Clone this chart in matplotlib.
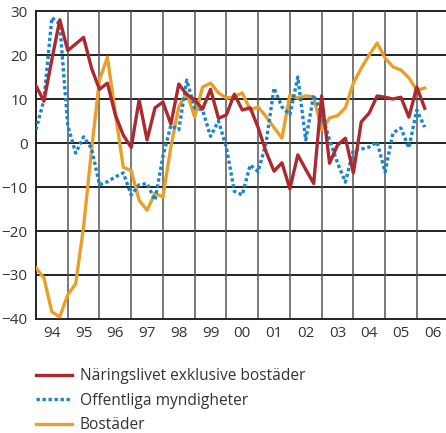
import matplotlib.pyplot as plt
import numpy as np

plt.rcParams['font.family'] = ['Open Sans', 'DejaVu Sans']

# quarterly values, 1994 Q1 - 2006 Q2
naringsliv = [13, 9.5, 19, 28, 21, 22.5, 24, 17, 12.2, 13.6,
              6.4, 1.8, -1, 9.8, 0.7, 8, 9.3, 4.3, 13.4, 11,
              9.8, 7.7, 12.2, 5.6, 6.4, 11.1, 7.5, 8, 3.5, -2,
              -6.4, -4.5, -10.4, -2.7, -6, -9.2, 10.7, -4.6, -0.5, 1.1,
              -6.8, 4.8, 6.8, 10.7, 10.4, 10, 10.4, 5.9, 12.7, 7.9]
offentliga = [3, 9.8, 28.5, 27, 4, -2.3, 1.4, -1.2, -9.5, -8.8,
              -7.7, -6.8, -11.8, -9.5, -9.2, -13, -3, 4, 3, 14.3,
              8, 7.5, 1.5, 5, -1, -11, -11.8, -5, -6.5, 0,
              12.5, 8.2, 6.4, 15, 0.7, 10.9, 6.8, 0.7, -4.5, -8.9,
              -1.6, -1.4, -0.9, 0.2, -6.6, 2.3, 3.4, -1.1, 7.5, 3.6]
bostader = [-28.4, -30.7, -38.4, -39.5, -34.5, -32, -19, -1.6, 14.3, 19.5,
            6.8, -5.5, -6.3, -13, -15.3, -11.4, -12.3, -0.9, 8.2, 11.4,
            5.9, 12.7, 13.6, 11.4, 10.2, 10.5, 11.4, 7.5, 8.2, 6,
            3.5, 1.1, 10.9, 10.2, 10.7, 10.5, 3, 5.7, 6.2, 8,
            13.6, 17, 20, 22.7, 19.3, 17.3, 16.6, 14.8, 12, 12.5]
labels = ['Näringslivet exklusive bostäder', 'Offentliga myndigheter', 'Bostäder']
years = ['94', '95', '96', '97', '98', '99', '00', '01', '02', '03', '04', '05', '06']

x = 1994 + np.arange(len(naringsliv)) / 4

fig = plt.figure(figsize=(4.46, 4.33), dpi=100)
ax = fig.add_axes([36/446, 1 - 319/433, 1 - 36/446, 308/433])

ax.plot(x, bostader, color='#E8A02A', lw=2.4, label=labels[2], zorder=3)
ax.plot(x, offentliga, color='#1A86C9', lw=2.4, ls=(0, (1, 0.8)), label=labels[1], zorder=4)
ax.plot(x, naringsliv, color='#AA2A30', lw=2.4, label=labels[0], zorder=5)

ax.set_xlim(1994, 2006.92)
ax.set_ylim(-40, 30)
ax.set_yticks(np.arange(-40, 31, 10))
for yv in np.arange(-30, 31, 10):
    ax.axhline(yv, color='#222222', lw=1.4, zorder=1, clip_on=False)
for k in range(1, 13):
    ax.axvline(1994 + k, color='#555555', lw=1.1, zorder=1)

ax.set_xticks(1994.5 + np.arange(13))
ax.set_xticklabels(years)
ax.tick_params(length=0, labelsize=11, colors='#333333')
ax.tick_params(axis='x', pad=5)
ax.tick_params(axis='y', pad=6)

for s in ['top', 'right']:
    ax.spines[s].set_visible(False)
ax.spines['left'].set_color('#222222')
ax.spines['bottom'].set_color('#222222')
ax.spines['left'].set_linewidth(1.4)
ax.spines['bottom'].set_linewidth(1.4)

h, l = ax.get_legend_handles_labels()
leg = fig.legend(h[::-1], l[::-1], loc='upper left', bbox_to_anchor=(30/446, 1 - 362/433),
                 frameon=False, fontsize=11.2, handlelength=2.3, handletextpad=0.5,
                 labelspacing=0.55, borderaxespad=0)
for t in leg.get_texts():
    t.set_color('#333333')

fig.savefig('out.png', dpi=100)
